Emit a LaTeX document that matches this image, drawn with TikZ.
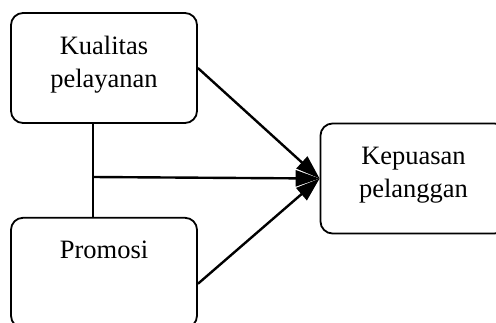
\documentclass[tikz,border=0pt]{standalone}
\usepackage{fontspec}
\setmainfont{Liberation Serif}
\usetikzlibrary{arrows.meta}
\usetikzlibrary{calc}
\usetikzlibrary{positioning}

\begin{document}
\begin{tikzpicture}[x=1pt,y=1pt,-,semithick]
 				 \tikzstyle{box}=[draw=black, rounded corners=12pt, line width=1.8pt, minimum width=186pt, minimum height=110pt, inner sep=0pt]
 				 \tikzstyle{caption}=[align=center, inner sep=0pt, font=\fontsize{26.5pt}{33pt}\selectfont]
 				 \tikzstyle{link}=[line width=2.4pt, -{Triangle[length=24pt,width=16pt]}]
						\useasboundingbox (0,0) rectangle (496,-322);
						\node[box] (kualitas) at (104,-68) {};
						\node[box] (promosi) [below=93pt of kualitas] {};
						\node[box] (kepuasan) at (413.5,-178.5) {};
						\node[caption] (kualitasText) [below=23.5pt of kualitas.north] {Kualitas\\pelayanan};
						\node[caption] (promosiText) [below=23.5pt of promosi.north] {Promosi};
						\node[caption] (kepuasanText) [below=24pt of kepuasan.north] {Kepuasan\\pelanggan};
						\coordinate (junction) at (93,-177);
						
						\draw[line width=2pt] (kualitas.south -| junction) -- (promosi.north -| junction);
						\path
							(kualitas.east) edge[link] (kepuasan.west)
							(junction) edge[link] (kepuasan.west)
							($(promosi.east)+(0,-11)$) edge[link] (kepuasan.west);
			
 				\end{tikzpicture}
\end{document}
